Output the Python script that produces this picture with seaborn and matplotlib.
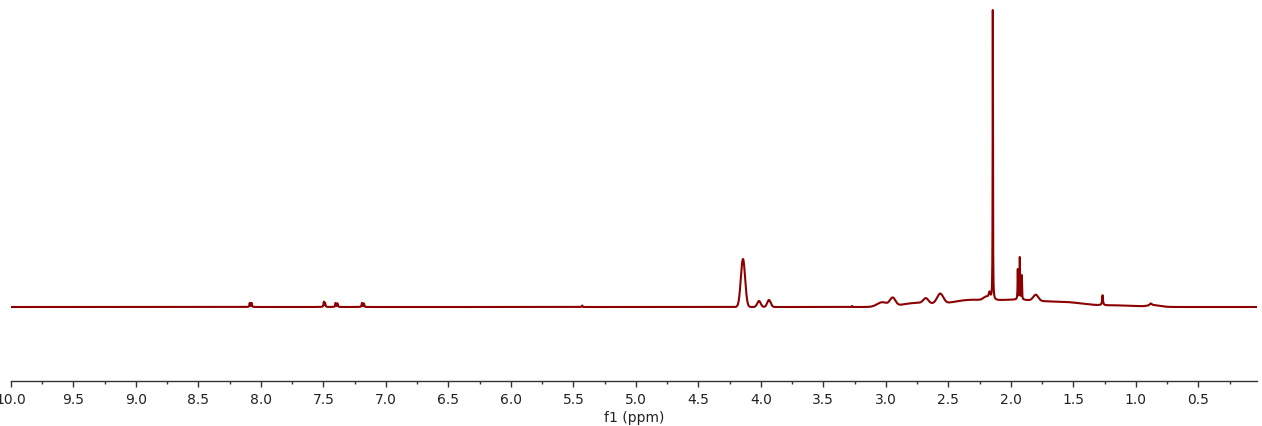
import numpy as np
import pandas as pd
import matplotlib
matplotlib.use("Agg")
import matplotlib.pyplot as plt
from matplotlib.ticker import MultipleLocator
import seaborn as sns

# sharp lines (Lorentzian): position in ppm, height, half width (ppm)
peak_ppm = [8.090, 8.075, 7.497, 7.487, 7.403, 7.388, 7.192, 7.177, 5.43,
            3.27, 2.17, 2.144, 1.944, 1.928, 1.912, 1.266, 0.88]
peak_height = [4, 4, 5, 4, 4, 3.5, 4, 3.5, 1.5,
               1, 7, 290, 30, 42, 24, 10, 2]
peak_hwhm = [0.003, 0.003, 0.003, 0.003, 0.003, 0.003, 0.003, 0.003, 0.003,
             0.003, 0.008, 0.0015, 0.002, 0.002, 0.002, 0.004, 0.01]

# rounder bands and humps (Gaussian): position, height, sigma (ppm)
band_ppm = [4.143, 4.015, 3.935, 3.03, 2.945, 2.75, 2.68, 2.565, 2.35,
            2.20, 1.95, 1.80, 1.55, 1.15, 0.85]
band_height = [48, 6, 7, 4.5, 8, 4, 5, 10, 6, 3, 7, 6, 4, 1.5, 1.5]
band_sigma = [0.017, 0.014, 0.014, 0.04, 0.022, 0.12, 0.02, 0.025, 0.15,
              0.02, 0.2, 0.02, 0.15, 0.15, 0.05]

ppm = np.linspace(10.0, 0.03, 40000)
intensity = np.zeros_like(ppm)
for c, h, w in zip(peak_ppm, peak_height, peak_hwhm):
    intensity += h / (1 + ((ppm - c) / w) ** 2)
for c, h, s in zip(band_ppm, band_height, band_sigma):
    intensity += h * np.exp(-0.5 * ((ppm - c) / s) ** 2)

df = pd.DataFrame({"ppm": ppm, "intensity": intensity})

sns.set_style("ticks")
fig = plt.figure(figsize=(12.62, 4.27), dpi=100)
ax = fig.add_axes([11 / 1262, 1 - 382 / 427, 1246 / 1262, 382 / 427])
sns.lineplot(data=df, x="ppm", y="intensity", color="#8b0000", linewidth=1.5,
             estimator=None, sort=False, ax=ax)

ax.set_xlim(10.0, 0.03)
ax.set_ylim(-74, 308)
ax.xaxis.set_major_locator(MultipleLocator(0.5))
ax.xaxis.set_minor_locator(MultipleLocator(0.25))
ax.xaxis.set_major_formatter(matplotlib.ticker.FormatStrFormatter("%.1f"))
ax.tick_params(axis="x", which="major", length=4, width=1, color="#333333",
               labelsize=10, pad=4, labelcolor="#222222")
ax.tick_params(axis="x", which="minor", length=2.5, width=1, color="#333333")
ax.set_yticks([])
ax.set_ylabel("")
ax.set_xlabel("f1 (ppm)", fontsize=10, labelpad=3, color="#222222")
for s in ["left", "right", "top"]:
    ax.spines[s].set_visible(False)
ax.spines["bottom"].set_color("#333333")
ax.spines["bottom"].set_linewidth(1)

fig.savefig("out.png", dpi=100)
